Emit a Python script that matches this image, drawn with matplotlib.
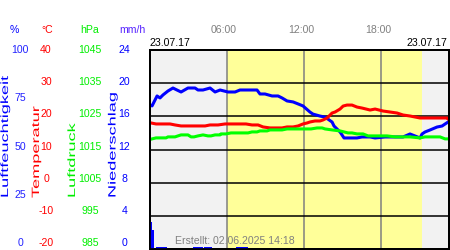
import matplotlib
matplotlib.use("Agg")
import matplotlib.pyplot as plt
from matplotlib import patheffects
from matplotlib.transforms import Affine2D

plt.rcParams["font.family"] = ["Liberation Sans", "DejaVu Sans"]

# ===== Daten (Stunden ab 00:00, 23.07.17) =====
hum_t = [0.0, 0.16, 0.55, 0.78, 1.01, 1.40, 1.79, 2.10, 2.42, 2.96, 3.51, 3.74, 4.13,
         4.68, 5.07, 5.46, 6.08, 6.63, 7.01, 7.48, 7.95, 8.34, 8.57, 8.96, 9.51, 9.98,
         10.29, 10.68, 11.15, 11.54, 11.92, 12.47, 12.70, 13.25, 13.64, 14.19, 14.34,
         14.81, 15.12, 15.59, 16.13, 16.52, 17.15, 17.54, 18.32, 19.10, 19.72, 20.26,
         21.04, 21.20, 21.43, 21.82, 22.37, 22.76, 22.99, 23.23]
hum_v = [72.4, 71.9, 76.9, 75.9, 77.4, 79.4, 80.9, 79.9, 78.9, 80.9, 80.9, 79.9, 79.9,
         80.9, 78.9, 79.9, 78.9, 78.9, 79.9, 79.9, 79.9, 79.9, 77.9, 77.9, 76.9, 76.9,
         75.9, 74.4, 73.9, 72.9, 71.9, 68.8, 67.8, 66.8, 66.3, 63.8, 61.8,
         58.8, 55.8, 55.8, 55.8, 56.3, 56.3, 55.8, 56.3, 56.3, 56.3, 57.8,
         55.8, 57.8, 58.8, 59.8, 61.3, 61.8, 62.8, 63.8]

temp_t = [0.08, 0.47, 1.01, 1.56, 1.95, 2.42, 2.96, 3.59, 4.29, 4.68, 5.30, 5.85, 6.63,
          7.48, 7.95, 8.42, 8.81, 9.35, 9.82, 10.29, 10.68, 11.15, 11.54, 11.92, 12.24,
          12.47, 12.86, 13.25, 13.48, 13.80, 14.19, 14.42, 14.81, 15.05, 15.35, 15.74,
          16.13, 16.52, 16.84, 17.15, 17.54, 18.16, 18.71, 19.25, 19.72, 20.26, 21.04,
          21.82, 22.60, 23.15, 23.23]
temp_v = [18.0, 17.7, 17.7, 17.7, 17.4, 17.1, 17.1, 17.1, 17.1, 17.4, 17.4, 17.7, 17.7,
          17.7, 17.4, 17.4, 16.8, 16.5, 16.5, 16.5, 16.8, 16.8, 17.1, 17.7, 18.0,
          18.3, 18.6, 18.6, 18.9, 19.5, 21.0, 21.3, 22.2, 23.1, 23.4, 23.4,
          22.8, 22.5, 22.2, 21.9, 22.2, 21.6, 21.3, 21.0, 20.4, 20.1, 19.5,
          19.5, 19.5, 19.5, 19.2]

pres_t = [0.16, 0.47, 0.86, 1.25, 1.40, 1.71, 1.95, 2.18, 2.42, 2.96, 3.20, 3.43, 3.74,
          4.13, 4.52, 4.75, 5.07, 5.46, 5.53, 5.92, 6.31, 7.01, 7.64, 7.95, 8.34, 8.57,
          9.12, 9.35, 9.82, 10.29, 10.68, 11.07, 11.54, 12.08, 12.55, 13.02, 13.41,
          13.64, 14.19, 14.81, 15.12, 15.43, 15.74, 16.13, 16.60, 16.99, 17.54, 17.93,
          18.47, 19.10, 19.72, 20.26, 21.04, 21.43, 21.98, 22.60, 22.99, 23.23]
pres_v = [1018.2, 1018.5, 1018.5, 1018.5, 1018.8, 1018.8, 1018.8, 1019.1, 1019.4, 1019.4,
          1018.8, 1018.8, 1019.1, 1019.4, 1019.1, 1019.1, 1019.4, 1019.4, 1019.7, 1019.7,
          1020.0, 1020.0, 1020.0, 1020.3, 1020.3, 1020.6, 1020.6, 1020.9, 1020.9, 1020.9,
          1021.2, 1021.2, 1021.2, 1021.2, 1021.2, 1021.5, 1021.5, 1021.2, 1020.9, 1020.6,
          1020.3, 1020.0, 1020.0, 1019.7, 1019.7, 1019.1, 1019.1, 1019.1, 1019.1, 1018.8,
          1018.8, 1018.8, 1018.5, 1018.8, 1018.8, 1018.8, 1018.2, 1018.2]

rain_t = [0.0, 0.17, 0.5, 0.67, 0.83, 1.0, 1.17, 3.33, 3.5, 3.67, 3.83, 4.0, 4.17, 4.33,
          4.5, 4.67, 6.67, 6.83, 7.0, 7.17, 7.33, 7.5]
rain_v = [3.3, 2.3, 0.3, 0.2, 0.2, 0.2, 0.2, 0.2, 0.2, 0.2, 0.2, 0.2, 0.2, 0.2,
          0.2, 0.2, 0.3, 0.3, 0.3, 0.3, 0.3, 0.3]

hum_ticks = [100, 75, 50, 25, 0]
temp_ticks = [40, 30, 20, 10, 0, -10, -20]
pres_ticks = [1045, 1035, 1025, 1015, 1005, 995, 985]
rain_ticks = [24, 20, 16, 12, 8, 4, 0]
hour_ticks = [6, 12, 18]
day_label = "23.07.17"
created = "Erstellt: 02.06.2025 14:18"

# ===== Farben =====
BLUE, RED, GREEN = "#0000ff", "#ff0000", "#00ee00"
GRAY = "#808080"
W, H = 450, 250
FS = 7.6


class Stretch(patheffects.AbstractPathEffect):
    # zieht die Schrift in Laufrichtung auseinander (wie im Original)
    def __init__(self, sx):
        super().__init__()
        self.sx = sx

    def draw_path(self, renderer, gc, tpath, affine, rgbFace=None):
        renderer.draw_path(gc, tpath, Affine2D().scale(self.sx, 1.0) + affine, rgbFace)


def fx(x):
    return x / W


def fy(y):
    return 1 - y / H


fig = plt.figure(figsize=(4.5, 2.5), dpi=100)
ax = fig.add_axes([fx(150), fy(249), 299 / W, 199 / H])
ax.set_xlim(0, 23.3)
ax.set_ylim(0, 100)

# Tag/Nacht Hintergrund
ax.set_facecolor("#f2f2f2")
ax.axvspan(6.0, 21.2, color="#ffff99", lw=0, zorder=0)
for h in hour_ticks:
    ax.axvline(h, color=GRAY, lw=1.1, zorder=1)
for k in range(1, 6):
    ax.axhline(k * 100 / 6, color="black", lw=1.1, zorder=1)

ax.plot(hum_t, hum_v, color=BLUE, lw=2.2, zorder=3)

ax_t = ax.twinx()
ax_t.set_ylim(-20, 40)
ax_t.plot(temp_t, temp_v, color=RED, lw=2.2)

ax_p = ax.twinx()
ax_p.set_ylim(985, 1045)
ax_p.plot(pres_t, pres_v, color="#00ff00", lw=2.2)

ax_r = ax.twinx()
ax_r.set_ylim(0, 24)
ax_r.bar(rain_t, rain_v, width=1 / 6, align="edge", color=BLUE, lw=0)

for a in (ax, ax_t, ax_p, ax_r):
    a.set_xticks([])
    a.set_yticks([])
    for s in a.spines.values():
        s.set_color("black")
        s.set_linewidth(1.2)

# Zeitbeschriftung oben
for h in hour_ticks:
    ax.text(h - 0.25, 1 + 20 / 199, f"{h:02d}:00", transform=ax.get_xaxis_transform(),
            ha="center", va="center", color=GRAY, fontsize=FS)
fig.text(fx(150), fy(43), day_label, ha="left", va="center", fontsize=FS)
fig.text(fx(447), fy(43), day_label, ha="right", va="center", fontsize=FS)
ax.text(25 / 299, 8 / 199, created, transform=ax.transAxes, ha="left", va="center",
        color=GRAY, fontsize=FS)

# Einheiten
fig.text(fx(14), fy(30), "%", ha="center", va="center", color=BLUE, fontsize=FS)
fig.text(fx(47), fy(30), "°C", ha="center", va="center", color=RED, fontsize=FS)
fig.text(fx(90), fy(30), "hPa", ha="center", va="center", color=GREEN, fontsize=FS)
fig.text(fx(132), fy(30), "mm/h", ha="center", va="center", color="#5522ff", fontsize=FS)

# Skalen links
for i, v in enumerate(hum_ticks):
    fig.text(fx(20), fy(50 + i * 48.25), str(v), ha="center", va="center",
             color="#2222ff", fontsize=FS)
for i, (tv, pv, rv) in enumerate(zip(temp_ticks, pres_ticks, rain_ticks)):
    y = fy(50 + i * 32.17)
    fig.text(fx(46), y, str(tv), ha="center", va="center", color=RED, fontsize=FS)
    fig.text(fx(90), y, str(pv), ha="center", va="center", color=GREEN, fontsize=FS)
    fig.text(fx(124.5), y, str(rv), ha="center", va="center", color=BLUE, fontsize=FS)

# Achsentitel (gedreht)
for x, txt, c in [(5, "Luftfeuchtigkeit", BLUE), (36, "Temperatur", RED),
                  (72, "Luftdruck", GREEN), (112.5, "Niederschlag", BLUE)]:
    fig.text(fx(x), fy(198), txt, rotation=90, ha="center", va="bottom", color=c,
             fontsize=FS, path_effects=[Stretch(1.72)])

fig.savefig("out.png", dpi=100)
